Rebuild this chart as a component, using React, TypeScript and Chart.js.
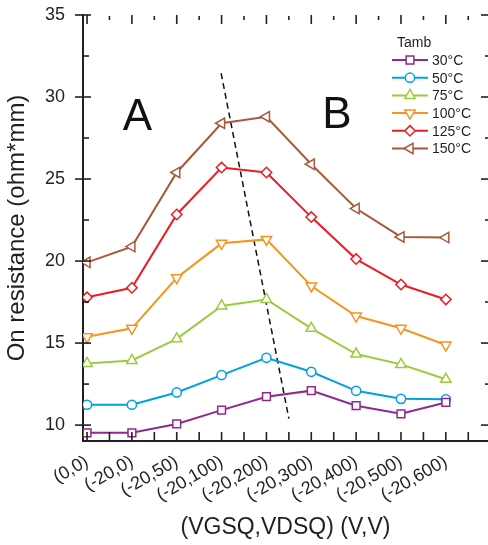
import React, { useEffect, useRef } from 'react';
import { Chart, registerables } from 'chart.js';
import { drawPoint } from 'chart.js/helpers';

Chart.register(...registerables);

// ---------- data ----------
const categories = ['(0,0)', '(-20,0)', '(-20,50)', '(-20,100)', '(-20,200)', '(-20,300)', '(-20,400)', '(-20,500)', '(-20,600)'];
const seriesLabels = ['30°C', '50°C', '75°C', '100°C', '125°C', '150°C'];
const t30 = [9.53, 9.53, 10.07, 10.91, 11.73, 12.1, 11.18, 10.69, 11.38];
const t50 = [11.24, 11.24, 11.99, 13.05, 14.1, 13.25, 12.09, 11.6, 11.57];
const t75 = [13.76, 13.94, 15.26, 17.26, 17.66, 15.9, 14.33, 13.7, 12.79];
const t100 = [15.38, 15.9, 18.98, 21.08, 21.32, 18.48, 16.65, 15.9, 14.88];
const t125 = [17.79, 18.37, 22.84, 25.7, 25.4, 22.68, 20.12, 18.57, 17.66];
const t150 = [19.92, 20.88, 25.4, 28.4, 28.8, 25.9, 23.2, 21.47, 21.43];
const seriesValues = [t30, t50, t75, t100, t125, t150];
const seriesColors = ['#92278f', '#00a0e3', '#9bcc3c', '#f7941d', '#ed1c24', '#a9583b'];
const seriesMarkers = ['rect', 'circle', 'triangle', 'triangle', 'rectRot', 'triangle'];
const seriesRotation = [0, 0, 0, 180, 0, 270];
const seriesRadius = [5.5, 4.6, 6, 6, 5.2, 6];
const yTicks = [10, 15, 20, 25, 30, 35];
const yMinorTicks = [12.5, 17.5, 22.5, 27.5, 32.5];
const dividerX = [2.99, 4.5];
const dividerY = [31.45, 10.4];
const regionLabels = ['A', 'B'];
const regionX = [1.125, 5.57];
const regionY = [28.0, 28.1];
const legendTitle = 'Tamb';

const FONT = "'Liberation Sans', Arial, Helvetica, sans-serif";
const INK = '#231f20';

const decorPlugin = {
  id: 'decor',
  afterDraw(chart: any) {
    const ctx = chart.ctx;
    const xs = chart.scales.x;
    const ys = chart.scales.y;
    const { left, right, top, bottom } = chart.chartArea;
    ctx.save();
    ctx.strokeStyle = INK;
    ctx.lineWidth = 1.6;
    const seg = (x1: number, y1: number, x2: number, y2: number) => {
      ctx.beginPath();
      ctx.moveTo(x1, y1);
      ctx.lineTo(x2, y2);
      ctx.stroke();
    };
    yTicks.forEach((v) => {
      const py = ys.getPixelForValue(v);
      seg(left - 8, py, left + 8, py);
      seg(right - 7, py, right, py);
    });
    yMinorTicks.forEach((v) => {
      const py = ys.getPixelForValue(v);
      seg(left, py, left + 6, py);
      seg(right - 3, py, right, py);
    });
    for (let k = 0; k <= categories.length - 0.5; k += 0.5) {
      const px = xs.getPixelForValue(k);
      seg(px, bottom, px, bottom - 9);
      if (Number.isInteger(k)) seg(px, top, px, top + 9);
      else seg(px, top + 1, px, top + 5);
    }
    ctx.fillStyle = '#111';
    ctx.font = `44px ${FONT}`;
    ctx.textAlign = 'center';
    ctx.textBaseline = 'alphabetic';
    regionLabels.forEach((t, i) => {
      ctx.fillText(t, xs.getPixelForValue(regionX[i]), ys.getPixelForValue(regionY[i]));
    });
    const lx = right - 96;
    ctx.font = `14px ${FONT}`;
    ctx.textAlign = 'left';
    ctx.textBaseline = 'middle';
    ctx.fillStyle = INK;
    ctx.fillText(legendTitle, lx + 5, top + 28);
    seriesLabels.forEach((lab, i) => {
      const ry = top + 45 + i * 17.7;
      ctx.strokeStyle = seriesColors[i];
      ctx.lineWidth = 2;
      seg(lx, ry, lx + 36, ry);
      ctx.fillStyle = '#ffffff';
      ctx.lineWidth = 1.5;
      drawPoint(ctx, { pointStyle: seriesMarkers[i], rotation: seriesRotation[i], radius: seriesRadius[i], borderWidth: 1.5 } as any, lx + 18, ry);
      ctx.fillStyle = INK;
      ctx.fillText(lab, lx + 40, ry + 1);
    });
    ctx.restore();
  },
};

export default function App() {
  const ref = useRef<HTMLCanvasElement | null>(null);
  useEffect(() => {
    if (!ref.current) return;
    Chart.defaults.font.family = FONT;
    const datasets: any[] = seriesLabels.map((lab, i) => ({
      label: lab,
      data: seriesValues[i].map((v, k) => ({ x: k, y: v })),
      borderColor: seriesColors[i],
      backgroundColor: '#ffffff',
      borderWidth: 2,
      pointStyle: seriesMarkers[i],
      rotation: seriesRotation[i],
      pointRadius: seriesRadius[i],
      pointBorderWidth: 1.5,
      pointBackgroundColor: '#ffffff',
      pointBorderColor: seriesColors[i],
      tension: 0,
    }));
    datasets.push({
      label: 'divider',
      data: dividerX.map((x, k) => ({ x, y: dividerY[k] })),
      borderColor: '#111',
      borderWidth: 1.5,
      borderDash: [6, 4],
      pointRadius: 0,
    });
    const chart = new Chart(ref.current, {
      type: 'line',
      data: { datasets },
      plugins: [decorPlugin],
      options: {
        animation: false,
        responsive: true,
        maintainAspectRatio: false,
        devicePixelRatio: 1,
        layout: { autoPadding: false, padding: { top: 15, right: 0, left: 0, bottom: 0 } },
        plugins: { legend: { display: false }, tooltip: { enabled: false } },
        scales: {
          x: {
            type: 'linear',
            min: -0.09,
            max: 8.94,
            afterBuildTicks: (s: any) => {
              s.ticks = categories.map((_, i) => ({ value: i }));
            },
            afterFit: (s: any) => {
              s.height = 104;
              s.paddingLeft = 0;
              s.paddingRight = 0;
            },
            grid: { display: false },
            border: { display: true, color: INK, width: 2 },
            ticks: {
              autoSkip: false,
              minRotation: 30,
              maxRotation: 30,
              padding: 2,
              color: INK,
              font: { size: 18 },
              callback: (v: any) => categories[v] ?? '',
            },
            title: {
              display: true,
              text: '(VGSQ,VDSQ) (V,V)',
              color: INK,
              font: { size: 23 },
              padding: { top: 0, bottom: 4 },
            },
          },
          y: {
            type: 'linear',
            min: 9.03,
            max: 35,
            afterBuildTicks: (s: any) => {
              s.ticks = yTicks.map((v) => ({ value: v }));
            },
            afterFit: (s: any) => {
              s.width = 83;
              s.paddingTop = 0;
              s.paddingBottom = 0;
            },
            grid: { display: false },
            border: { display: true, color: INK, width: 2 },
            ticks: { padding: 10, color: INK, font: { size: 18 } },
            title: {
              display: true,
              text: 'On resistance (ohm*mm)',
              color: INK,
              font: { size: 24 },
              padding: { top: 3, bottom: 0 },
            },
          },
        },
      } as any,
    });
    return () => chart.destroy();
  }, []);
  return (
    <div style={{ position: 'absolute', left: 0, top: 0, width: 488, height: 545 }}>
      <canvas ref={ref} />
    </div>
  );
}
